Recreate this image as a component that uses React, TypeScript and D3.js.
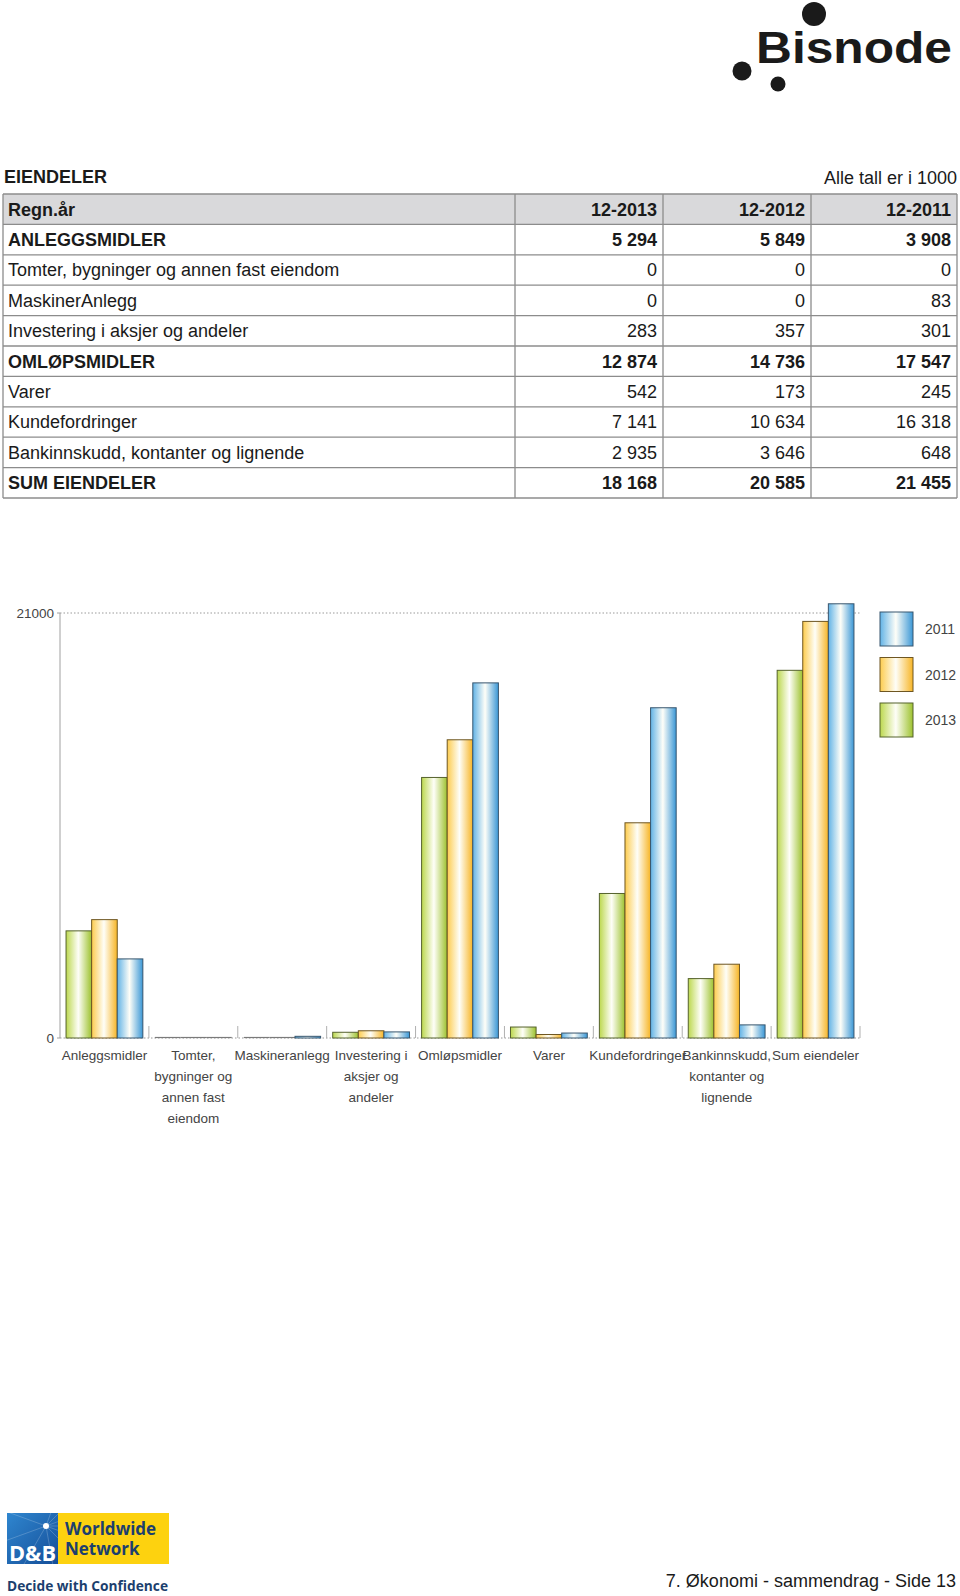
import React from 'react';
import * as d3 from 'd3';

// ---------- Table data ----------
const tableTitle = 'EIENDELER';
const tableNote = 'Alle tall er i 1000';
const tableHeader = ['Regn.år', '12-2013', '12-2012', '12-2011'];
const rowLabels = [
  'ANLEGGSMIDLER',
  'Tomter, bygninger og annen fast eiendom',
  'MaskinerAnlegg',
  'Investering i aksjer og andeler',
  'OMLØPSMIDLER',
  'Varer',
  'Kundefordringer',
  'Bankinnskudd, kontanter og lignende',
  'SUM EIENDELER',
];
const col2013 = ['5 294', '0', '0', '283', '12 874', '542', '7 141', '2 935', '18 168'];
const col2012 = ['5 849', '0', '0', '357', '14 736', '173', '10 634', '3 646', '20 585'];
const col2011 = ['3 908', '0', '83', '301', '17 547', '245', '16 318', '648', '21 455'];
const boldRows = [true, false, false, false, true, false, false, false, true];

// ---------- Chart data ----------
const categories = [
  'Anleggsmidler',
  'Tomter, bygninger og annen fast eiendom',
  'Maskineranlegg',
  'Investering i aksjer og andeler',
  'Omløpsmidler',
  'Varer',
  'Kundefordringer',
  'Bankinnskudd, kontanter og lignende',
  'Sum eiendeler',
];
const categoryLines = [
  ['Anleggsmidler'],
  ['Tomter,', 'bygninger og', 'annen fast', 'eiendom'],
  ['Maskineranlegg'],
  ['Investering i', 'aksjer og', 'andeler'],
  ['Omløpsmidler'],
  ['Varer'],
  ['Kundefordringer'],
  ['Bankinnskudd,', 'kontanter og', 'lignende'],
  ['Sum eiendeler'],
];
const seriesNames = ['2013', '2012', '2011'];
const values2013 = [5294, 0, 0, 283, 12874, 542, 7141, 2935, 18168];
const values2012 = [5849, 0, 0, 357, 14736, 173, 10634, 3646, 20585];
const values2011 = [3908, 0, 83, 301, 17547, 245, 16318, 648, 21455];
const legendOrder = ['2011', '2012', '2013'];
const yTicks = [0, 21000];

const seriesValues: Record<string, number[]> = {
  '2013': values2013,
  '2012': values2012,
  '2011': values2011,
};

const seriesStyle: Record<string, { a: string; b: string; stroke: string }> = {
  '2013': { a: '#bcd84e', b: '#9dc22e', stroke: '#55622c' },
  '2012': { a: '#fdcc4e', b: '#f7b526', stroke: '#6e5622' },
  '2011': { a: '#62b3e6', b: '#3a97d6', stroke: '#38566e' },
};

const FONT = '"Liberation Sans", Arial, Helvetica, sans-serif';

export default function App() {
  // table layout
  const colEdges = [3, 515, 663, 811, 957];
  const tableTop = 194;
  const rowH = 30.4;
  const nRows = rowLabels.length + 1;
  const tfs = 18;

  // chart scales
  const x0 = d3.scaleBand<string>().domain(categories).range([60, 860]).paddingInner(0).paddingOuter(0);
  const x1 = d3.scaleBand<string>().domain(seriesNames).range([0, x0.bandwidth()]).paddingInner(0).paddingOuter(0.236);
  const y = d3.scaleLinear().domain([0, 21000]).range([1038, 613]);

  const tableRowsAll = rowLabels.map((l, i) => ({
    label: l,
    vals: [col2013[i], col2012[i], col2011[i]],
    bold: boldRows[i],
  }));

  return (
    <svg
      width={960}
      height={1596}
      viewBox="0 0 960 1596"
      style={{ position: 'absolute', left: 0, top: 0, background: '#fff' }}
      fontFamily={FONT}
    >
      <defs>
        {seriesNames.map((s) => (
          <linearGradient key={s} id={`g${s}`} x1="0" y1="0" x2="1" y2="0">
            <stop offset="0%" stopColor={seriesStyle[s].a} />
            <stop offset="48%" stopColor="#fefef8" />
            <stop offset="100%" stopColor={seriesStyle[s].b} />
          </linearGradient>
        ))}
        <linearGradient id="dbBlue" x1="0" y1="0" x2="1" y2="1">
          <stop offset="0%" stopColor="#2f86cf" />
          <stop offset="100%" stopColor="#154e98" />
        </linearGradient>
      </defs>

      {/* Bisnode logo */}
      <g>
        <circle cx={814} cy={14} r={12} fill="#1a1a1a" />
        <circle cx={742} cy={71} r={9.5} fill="#1a1a1a" />
        <circle cx={778} cy={84} r={7.5} fill="#1a1a1a" />
        <text x={756} y={63} fontSize={45} fontWeight="bold" fill="#1a1a1a" textLength={196} lengthAdjust="spacingAndGlyphs">
          Bisnode
        </text>
      </g>

      {/* Table title */}
      <text x={4} y={183} fontSize={tfs} fontWeight="bold" fill="#1a1a1a">{tableTitle}</text>
      <text x={957} y={184} fontSize={tfs} textAnchor="end" fill="#1a1a1a">{tableNote}</text>

      {/* Table */}
      <g>
        <rect x={colEdges[0]} y={tableTop} width={colEdges[4] - colEdges[0]} height={rowH} fill="#d9d9db" />
        {d3.range(nRows + 1).map((i) => (
          <line key={`h${i}`} x1={colEdges[0]} x2={colEdges[4]} y1={tableTop + i * rowH} y2={tableTop + i * rowH} stroke="#8c8c8c" strokeWidth={1.3} />
        ))}
        {colEdges.map((cx, i) => (
          <line key={`v${i}`} x1={cx} x2={cx} y1={tableTop} y2={tableTop + nRows * rowH} stroke="#8c8c8c" strokeWidth={1.3} />
        ))}
        {tableHeader.map((h, i) => (
          <text
            key={`th${i}`}
            x={i === 0 ? colEdges[0] + 5 : colEdges[i + 1] - 6}
            y={tableTop + 21.5}
            fontSize={tfs}
            fontWeight="bold"
            textAnchor={i === 0 ? 'start' : 'end'}
            fill="#1a1a1a"
          >
            {h}
          </text>
        ))}
        {tableRowsAll.map((r, i) => {
          const yy = tableTop + (i + 1) * rowH + 21.5;
          return (
            <g key={`r${i}`}>
              <text x={colEdges[0] + 5} y={yy} fontSize={tfs} fontWeight={r.bold ? 'bold' : 'normal'} fill="#1a1a1a">
                {r.label}
              </text>
              {r.vals.map((v, j) => (
                <text key={j} x={colEdges[j + 2] - 6} y={yy} fontSize={tfs} fontWeight={r.bold ? 'bold' : 'normal'} textAnchor="end" fill="#1a1a1a">
                  {v}
                </text>
              ))}
            </g>
          );
        })}
      </g>

      {/* Chart */}
      <g fontSize={13.5} fill="#444">
        <line x1={60} x2={860} y1={y(21000)} y2={y(21000)} stroke="#9a9a9a" strokeDasharray="1.5,2" />
        <line x1={60} x2={860} y1={y(0)} y2={y(0)} stroke="#9a9a9a" strokeDasharray="1.5,2" />
        <line x1={60} x2={60} y1={y(21000)} y2={y(0)} stroke="#a0a0a0" strokeWidth={1} />
        {yTicks.map((t) => (
          <g key={t}>
            <line x1={57} x2={60} y1={y(t)} y2={y(t)} stroke="#a0a0a0" />
            <text x={54} y={y(t) + 5} textAnchor="end" fill="#444">
              {t}
            </text>
          </g>
        ))}
        {categories.map((c) => {
          const xe = (x0(c) as number) + x0.bandwidth();
          return <line key={`t${c}`} x1={xe} x2={xe} y1={y(0) - 12} y2={y(0)} stroke="#b0b0b0" />;
        })}
        {categories.map((c, ci) => (
          <g key={`grp${ci}`} transform={`translate(${x0(c)},0)`}>
            {seriesNames.map((s) => {
              const v = seriesValues[s][ci];
              const bx = x1(s) as number;
              if (v === 0) {
                return (
                  <line
                    key={s}
                    x1={bx}
                    x2={bx + x1.bandwidth()}
                    y1={y(0) - 0.5}
                    y2={y(0) - 0.5}
                    stroke="#7a7a7a"
                    strokeWidth={1.2}
                  />
                );
              }
              return (
                <rect
                  key={s}
                  x={bx}
                  y={y(v)}
                  width={x1.bandwidth()}
                  height={y(0) - y(v)}
                  fill={`url(#g${s})`}
                  stroke={seriesStyle[s].stroke}
                  strokeWidth={1}
                />
              );
            })}
          </g>
        ))}
        {categories.map((c, ci) => (
          <text key={`l${ci}`} x={(x0(c) as number) + x0.bandwidth() / 2} y={1060} textAnchor="middle" fill="#444">
            {categoryLines[ci].map((ln, li) => (
              <tspan key={li} x={(x0(c) as number) + x0.bandwidth() / 2} dy={li === 0 ? 0 : 21}>
                {ln}
              </tspan>
            ))}
          </text>
        ))}
        {legendOrder.map((s, i) => {
          const ly = 612 + i * 45.5;
          return (
            <g key={`lg${s}`}>
              <rect x={880} y={ly} width={33} height={34} fill={`url(#g${s})`} stroke={seriesStyle[s].stroke} strokeWidth={1} />
              <text x={925} y={ly + 22} fill="#444" fontSize={14}>
                {s}
              </text>
            </g>
          );
        })}
      </g>

      {/* D&B footer logo */}
      <g>
        <rect x={7} y={1513} width={51} height={51} fill="url(#dbBlue)" />
        {[-70, -45, -20, 0, 20, 45, 80, 120, 160, 200].map((a, i) => {
          const rad = (a * Math.PI) / 180;
          return (
            <line
              key={i}
              x1={46}
              y1={1526}
              x2={46 + Math.cos(rad) * 60}
              y2={1526 + Math.sin(rad) * 60}
              stroke="#ffffff"
              strokeOpacity={0.25}
              strokeWidth={0.8}
            />
          );
        })}
        <rect x={58} y={1513} width={111} height={51} fill="#fdd20f" />
        <circle cx={46} cy={1526} r={3} fill="#ffffff" />
        <text x={9} y={1561} fontFamily='"Open Sans", sans-serif' fontWeight="bold" fontSize={21} fill="#ffffff" textLength={47} lengthAdjust="spacingAndGlyphs">
          D&amp;B
        </text>
        <text x={65} y={1535} fontFamily='"Open Sans", sans-serif' fontWeight="bold" fontSize={17} fill="#1c3f6e">
          Worldwide
        </text>
        <text x={65} y={1555} fontFamily='"Open Sans", sans-serif' fontWeight="bold" fontSize={17} fill="#1c3f6e">
          Network
        </text>
        <text x={7} y={1591} fontFamily='"Open Sans", sans-serif' fontWeight="bold" fontSize={14.5} fill="#1c3f6e" textLength={161} lengthAdjust="spacingAndGlyphs">
          Decide with Confidence
        </text>
      </g>

      <text x={956} y={1587} fontSize={18} textAnchor="end" fill="#1a1a1a">
        7. Økonomi - sammendrag - Side 13
      </text>
    </svg>
  );
}
